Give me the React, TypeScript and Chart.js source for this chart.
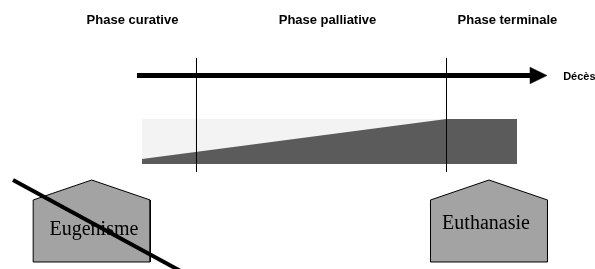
import React, { useEffect, useRef } from 'react';
import { Chart, registerables } from 'chart.js';

Chart.register(...registerables);

// ---- Data (time axis: 0 = start of care band, 100 = its end; vertical: share of palliative care, %) ----
const phaseNames = ['Phase curative', 'Phase palliative', 'Phase terminale'];
const phaseLabelTime = [-2.54, 49.46, 97.46];
const phaseBounds = [14.53, 81.2];
const timelineStart = -1.33;
const timelineTip = 108;
const endLabel = 'Décès';

const bandTime = [0, 100];
const bandShare = [100, 100];
const palliativeTime = [0, 81.2, 100];
const palliativeShare = [11, 100, 100];

const eventLabels = ['Eugenisme', 'Euthanasie'];
const eventTime = [-13.42, 92.53];
const eventRejected = [true, false];

// ---- Layout (diagram units) ----
const VIEW_X: [number, number] = [-37.87, 120.8];
const VIEW_Y: [number, number] = [-233.3, 364.4];
const TIMELINE_LEVEL = 196.67;
const HEAD_LEN = 4.53;
const HEAD_HALF = 18.5;
const SEP_TOP = 235.6;
const SEP_BOTTOM = -17.8;
const PHASE_LABEL_LEVEL = 311.07;
const END_LABEL_TIME = 112.3;
const END_LABEL_LEVEL = 186.65;
const BOX_HALF = 15.6;
const BOX_PEAK = -35.55;
const BOX_SHOULDER = -79.98;
const BOX_BOTTOM = -217.74;
const BOX_LABEL_LEVEL = [-157.75, -144.42];
const BOX_LABEL_SHIFT = [0.6, -0.8];
const CROSS_FROM = [-20.98, -35.55];
const CROSS_TO = [33.02, -279.95];

const pts = (xs: number[], ys: number[]) => xs.map((x, i) => ({ x, y: ys[i] }));

function buildDatasets() {
  const layers: any[] = [];
  const base = { showLine: true, pointRadius: 0, pointHoverRadius: 0, pointHitRadius: 0, tension: 0 };
  layers.push({ ...base, label: 'band', data: pts(bandTime, bandShare), fill: 'origin', backgroundColor: '#f3f3f3', borderWidth: 0 });
  layers.push({ ...base, label: 'palliative', data: pts(palliativeTime, palliativeShare), fill: 'origin', backgroundColor: '#5b5b5b', borderWidth: 0 });
  phaseBounds.forEach((t, i) => {
    layers.push({ ...base, label: 'sep' + i, data: [{ x: t, y: SEP_TOP }, { x: t, y: SEP_BOTTOM }], borderColor: '#000', borderWidth: 1, fill: false });
  });
  layers.push({ ...base, label: 'timeline', data: [{ x: timelineStart, y: TIMELINE_LEVEL }, { x: timelineTip - HEAD_LEN + 0.3, y: TIMELINE_LEVEL }], borderColor: '#000', borderWidth: 5, fill: false });
  layers.push({
    ...base, label: 'head',
    data: [
      { x: timelineTip - HEAD_LEN, y: TIMELINE_LEVEL + HEAD_HALF },
      { x: timelineTip, y: TIMELINE_LEVEL },
      { x: timelineTip - HEAD_LEN, y: TIMELINE_LEVEL - HEAD_HALF },
      { x: timelineTip - HEAD_LEN, y: TIMELINE_LEVEL + HEAD_HALF },
    ],
    fill: 'shape', backgroundColor: '#000', borderColor: '#000', borderWidth: 0.5,
  });
  eventTime.forEach((t, i) => {
    layers.push({
      ...base, label: 'event:' + i,
      data: [
        { x: t - BOX_HALF, y: BOX_SHOULDER },
        { x: t, y: BOX_PEAK },
        { x: t + BOX_HALF, y: BOX_SHOULDER },
        { x: t + BOX_HALF, y: BOX_BOTTOM },
        { x: t - BOX_HALF, y: BOX_BOTTOM },
        { x: t - BOX_HALF, y: BOX_SHOULDER },
      ],
      fill: 'shape', backgroundColor: '#a3a3a3', borderColor: '#000', borderWidth: 1,
    });
    if (eventRejected[i]) {
      layers.push({
        ...base, label: 'cross' + i,
        data: [{ x: t + CROSS_FROM[0], y: CROSS_FROM[1] }, { x: t + CROSS_TO[0], y: CROSS_TO[1] }],
        borderColor: '#000', borderWidth: 4, fill: false,
      });
    }
  });
  const n = layers.length;
  return layers.map((d, i) => ({ ...d, order: n - i }));
}

const labelsPlugin = {
  id: 'diagramLabels',
  afterDatasetDraw(chart: any, args: any) {
    const ds = chart.data.datasets[args.index];
    if (!ds || typeof ds.label !== 'string' || !ds.label.startsWith('event:')) return;
    const i = Number(ds.label.slice(6));
    const { ctx, scales } = chart;
    ctx.save();
    ctx.fillStyle = '#000';
    ctx.font = '20px "Liberation Serif", "Times New Roman", serif';
    ctx.textAlign = 'center';
    ctx.textBaseline = 'alphabetic';
    ctx.fillText(eventLabels[i], scales.x.getPixelForValue(eventTime[i] + BOX_LABEL_SHIFT[i]), scales.y.getPixelForValue(BOX_LABEL_LEVEL[i]));
    ctx.restore();
  },
  afterDatasetsDraw(chart: any) {
    const { ctx, scales } = chart;
    ctx.save();
    ctx.fillStyle = '#000';
    ctx.textBaseline = 'alphabetic';
    ctx.font = 'bold 13px "Liberation Sans", Arial, sans-serif';
    ctx.textAlign = 'center';
    phaseNames.forEach((name, i) => {
      ctx.fillText(name, scales.x.getPixelForValue(phaseLabelTime[i]), scales.y.getPixelForValue(PHASE_LABEL_LEVEL));
    });
    ctx.font = 'bold 11px "Liberation Sans", Arial, sans-serif';
    ctx.textAlign = 'left';
    ctx.fillText(endLabel, scales.x.getPixelForValue(END_LABEL_TIME), scales.y.getPixelForValue(END_LABEL_LEVEL));
    ctx.restore();
  },
};

export default function App() {
  const ref = useRef<HTMLCanvasElement>(null);
  useEffect(() => {
    document.body.style.margin = '0';
    document.body.style.overflow = 'hidden';
    const chart = new Chart(ref.current as HTMLCanvasElement, {
      type: 'scatter',
      data: { datasets: buildDatasets() },
      options: {
        animation: false,
        responsive: false,
        maintainAspectRatio: false,
        devicePixelRatio: 1,
        events: [],
        layout: { padding: 0 },
        scales: {
          x: { type: 'linear', min: VIEW_X[0], max: VIEW_X[1], display: false },
          y: { type: 'linear', min: VIEW_Y[0], max: VIEW_Y[1], display: false },
        },
        plugins: { legend: { display: false }, tooltip: { enabled: false }, title: { display: false } },
      },
      plugins: [labelsPlugin],
    } as any);
    return () => chart.destroy();
  }, []);
  return (
    <div style={{ width: 595, height: 269 }}>
      <canvas ref={ref} width={595} height={269} style={{ display: 'block', width: 595, height: 269 }} />
    </div>
  );
}
